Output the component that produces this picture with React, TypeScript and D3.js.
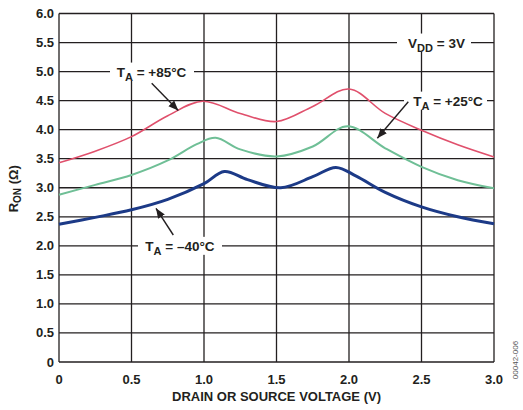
import * as d3 from "d3";
import React, { useRef, useEffect } from "react";

// R_ON vs drain/source voltage, three temperatures
const voltsHot = [0, 0.25, 0.5, 0.75, 0.99, 1.25, 1.5, 1.75, 2.0, 2.25, 2.5, 2.75, 3.0];
const ronHot = [3.43, 3.63, 3.88, 4.24, 4.49, 4.28, 4.14, 4.4, 4.7, 4.28, 3.99, 3.74, 3.53];

const voltsRoom = [0, 0.25, 0.5, 0.75, 0.95, 1.08, 1.25, 1.5, 1.75, 1.99, 2.25, 2.5, 2.75, 3.0];
const ronRoom = [2.88, 3.05, 3.22, 3.47, 3.75, 3.86, 3.66, 3.54, 3.71, 4.06, 3.68, 3.36, 3.13, 2.99];

const voltsCold = [0, 0.25, 0.5, 0.75, 1.0, 1.14, 1.3, 1.53, 1.75, 1.91, 2.05, 2.25, 2.5, 2.75, 3.0];
const ronCold = [2.37, 2.49, 2.62, 2.8, 3.07, 3.28, 3.14, 3.0, 3.19, 3.35, 3.2, 2.92, 2.67, 2.5, 2.38];

const xTicks = [0, 0.5, 1.0, 1.5, 2.0, 2.5, 3.0];
const yTicks = [0, 0.5, 1.0, 1.5, 2.0, 2.5, 3.0, 3.5, 4.0, 4.5, 5.0, 5.5, 6.0];

const width = 523;
const height = 410;
const margin = { top: 13.5, right: 29, bottom: 48, left: 59 };

const font = "'Liberation Sans', Arial, Helvetica, sans-serif";
const ink = "#231f20";

const App = () => {
  const ref = useRef<SVGSVGElement>(null);

  useEffect(() => {
    const svg = d3.select(ref.current);
    svg.selectAll("*").remove();

    const x = d3.scaleLinear().domain([0, 3]).range([margin.left, width - margin.right]);
    const y = d3.scaleLinear().domain([0, 6]).range([height - margin.bottom, margin.top]);

    svg
      .append("defs")
      .append("marker")
      .attr("id", "arrow")
      .attr("viewBox", "0 0 10 10")
      .attr("refX", 10)
      .attr("refY", 5)
      .attr("markerWidth", 10)
      .attr("markerHeight", 10)
      .attr("markerUnits", "userSpaceOnUse")
      .attr("orient", "auto")
      .append("path")
      .attr("d", "M0,1 L10,5 L0,9 Z")
      .attr("fill", ink);

    // grid
    const grid = svg.append("g").attr("stroke", ink).attr("stroke-width", 1.3);
    grid
      .selectAll("line.v")
      .data(xTicks)
      .join("line")
      .attr("class", "v")
      .attr("x1", (d) => x(d))
      .attr("x2", (d) => x(d))
      .attr("y1", y(0))
      .attr("y2", y(6));
    grid
      .selectAll("line.h")
      .data(yTicks)
      .join("line")
      .attr("class", "h")
      .attr("x1", x(0))
      .attr("x2", x(3))
      .attr("y1", (d) => y(d))
      .attr("y2", (d) => y(d));

    // tick labels
    svg
      .append("g")
      .selectAll("text")
      .data(yTicks)
      .join("text")
      .attr("x", x(0) - 5)
      .attr("y", (d) => y(d) + 4.5)
      .attr("text-anchor", "end")
      .text((d) => (d === 0 ? "0" : d.toFixed(1)));
    svg
      .append("g")
      .selectAll("text")
      .data(xTicks)
      .join("text")
      .attr("x", (d) => x(d))
      .attr("y", y(0) + 22)
      .attr("text-anchor", "middle")
      .text((d) => (d === 0 ? "0" : d.toFixed(1)));

    svg
      .append("text")
      .attr("x", (x(0) + x(3)) / 2)
      .attr("y", 401)
      .attr("text-anchor", "middle")
      .text("DRAIN OR SOURCE VOLTAGE (V)");

    const yl = svg
      .append("text")
      .attr("transform", `translate(18, ${y(3) + 1}) rotate(-90)`)
      .attr("text-anchor", "middle");
    yl.append("tspan").text("R");
    yl.append("tspan").attr("font-size", 10).attr("dy", 3).text("ON");
    yl.append("tspan").attr("dy", -3).text(" (Ω)");

    svg
      .append("text")
      .attr("transform", `translate(518, 360) rotate(-90)`)
      .attr("font-size", 8)
      .attr("font-weight", "normal")
      .attr("fill", "#555")
      .attr("text-anchor", "middle")
      .text("00042-006");

    // curves
    const line = d3
      .line<[number, number]>()
      .x((d) => x(d[0]))
      .y((d) => y(d[1]))
      .curve(d3.curveCatmullRom.alpha(0.5));

    const series = [
      { v: voltsHot, r: ronHot, color: "#e0506c", w: 1.6 },
      { v: voltsRoom, r: ronRoom, color: "#6fbf96", w: 2 },
      { v: voltsCold, r: ronCold, color: "#1c3a87", w: 3 },
    ];
    svg
      .append("g")
      .attr("fill", "none")
      .selectAll("path")
      .data(series)
      .join("path")
      .attr("stroke", (d) => d.color)
      .attr("stroke-width", (d) => d.w)
      .attr("d", (d) => line(d.v.map((v, i) => [v, d.r[i]] as [number, number])));

    // callouts
    const labels = [
      { main: "T", sub: "A", rest: " = +85°C", cx: 151.5, val: 5.0, gap: [110, 194] },
      { main: "V", sub: "DD", rest: " = 3V", cx: 436.5, val: 5.5, gap: [397, 471] },
      { main: "T", sub: "A", rest: " = +25°C", cx: 448, val: 4.5, gap: [404, 487] },
      { main: "T", sub: "A", rest: " = –40°C", cx: 180, val: 2.0, gap: [138, 222] },
    ];
    labels.forEach((l) => {
      svg
        .append("rect")
        .attr("x", l.gap[0])
        .attr("y", y(l.val) - 9)
        .attr("width", l.gap[1] - l.gap[0])
        .attr("height", 18)
        .attr("fill", "#fff");
      const t = svg
        .append("text")
        .attr("x", l.cx)
        .attr("y", y(l.val) + 5)
        .attr("text-anchor", "middle")
        .attr("font-size", 13.5);
      t.append("tspan").text(l.main);
      t.append("tspan").attr("font-size", 11).attr("dy", 4).text(l.sub);
      t.append("tspan").attr("dy", -4).text(l.rest);
    });

    const arrows = [
      [151.7, 83.3, 178.3, 110.5],
      [408.3, 101.7, 377.3, 138.3],
      [173.3, 235, 156, 208.3],
    ];
    svg
      .append("g")
      .selectAll("line")
      .data(arrows)
      .join("line")
      .attr("x1", (d) => d[0])
      .attr("y1", (d) => d[1])
      .attr("x2", (d) => d[2])
      .attr("y2", (d) => d[3])
      .attr("stroke", ink)
      .attr("stroke-width", 1.4)
      .attr("marker-end", "url(#arrow)");
  }, []);

  return (
    <svg
      ref={ref}
      width={width}
      height={height}
      style={{ position: "absolute", left: 0, top: 0, background: "#fff" }}
      fontFamily={font}
      fontWeight="bold"
      fontSize={13}
      fill={ink}
    />
  );
};

export default App;
